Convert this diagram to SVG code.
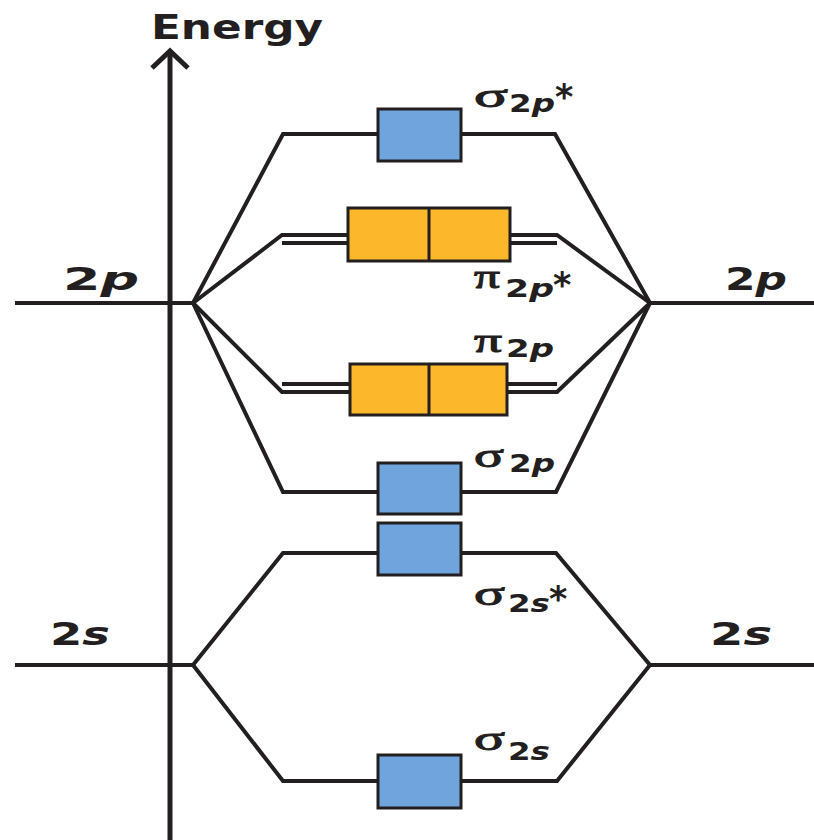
<svg xmlns="http://www.w3.org/2000/svg" width="814" height="840" viewBox="0 0 814 840">
  <style>
    .ln { fill: none; stroke: #231f20; stroke-width: 4; stroke-linejoin: miter; }
    .ax { fill: none; stroke: #231f20; stroke-width: 5; }
    .sb { fill: #6fa4dd; stroke: #231f20; stroke-width: 3; }
    .pb { fill: #fcb82a; stroke: #231f20; stroke-width: 3; }
    .lab { font-family: "DejaVu Sans", "Liberation Sans", sans-serif; font-weight: bold; fill: #231f20; }
    .gk { font-family: "Liberation Serif", "DejaVu Serif", serif; fill: #231f20; stroke: #231f20; stroke-width: 1; }
    .st { font-family: "DejaVu Sans", "Liberation Sans", sans-serif; font-weight: bold; font-size: 35px; fill: #231f20; }
    .it { font-style: italic; }
  </style>
  <rect width="814" height="840" fill="#ffffff"/>

  <!-- energy axis -->
  <g id="axis">
    <line class="ax" x1="170" y1="52" x2="170" y2="840"/>
    <polyline class="ax" points="152,68 170,51 188,68"/>
    <text class="lab" x="151" y="39" font-size="34" textLength="172" lengthAdjust="spacingAndGlyphs">Energy</text>
  </g>

  <!-- connectors: atomic levels and correlation lines -->
  <g id="connectors">
    <!-- atomic 2p / 2s levels -->
    <line class="ln" x1="15" y1="303" x2="193" y2="303"/>
    <line class="ln" x1="650" y1="303" x2="814" y2="303"/>
    <line class="ln" x1="15" y1="665" x2="193" y2="665"/>
    <line class="ln" x1="650" y1="665" x2="814" y2="665"/>

    <!-- sigma 2p* -->
    <polyline class="ln" points="193,303 283,134 378,134"/>
    <polyline class="ln" points="461,134 555,134 650,303"/>
    <!-- pi 2p* -->
    <polyline class="ln" points="193,303 282,235 348,235"/>
    <line class="ln" x1="282" y1="243" x2="348" y2="243"/>
    <polyline class="ln" points="510,235 557,235 650,303"/>
    <line class="ln" x1="510" y1="243" x2="557" y2="243"/>
    <!-- pi 2p -->
    <line class="ln" x1="282" y1="384" x2="350" y2="384"/>
    <polyline class="ln" points="193,303 282,392 350,392"/>
    <line class="ln" x1="507" y1="384" x2="557" y2="384"/>
    <polyline class="ln" points="507,392 557,392 650,303"/>
    <!-- sigma 2p -->
    <polyline class="ln" points="193,303 283,492 378,492"/>
    <polyline class="ln" points="461,492 556,492 650,303"/>
    <!-- sigma 2s* -->
    <polyline class="ln" points="193,665 283,553 378,553"/>
    <polyline class="ln" points="461,553 556,553 650,665"/>
    <!-- sigma 2s -->
    <polyline class="ln" points="193,665 283,781 378,781"/>
    <polyline class="ln" points="461,781 557,781 650,665"/>
  </g>

  <!-- atomic labels -->
  <g id="atom-left">
    <text class="lab" x="63" y="290" font-size="32" textLength="76" lengthAdjust="spacingAndGlyphs">2<tspan class="it">p</tspan></text>
    <text class="lab" x="50" y="645" font-size="32" textLength="60" lengthAdjust="spacingAndGlyphs">2<tspan class="it">s</tspan></text>
  </g>
  <g id="atom-right">
    <text class="lab" x="725" y="290" font-size="32" textLength="62" lengthAdjust="spacingAndGlyphs">2<tspan class="it">p</tspan></text>
    <text class="lab" x="710" y="645" font-size="32" textLength="62" lengthAdjust="spacingAndGlyphs">2<tspan class="it">s</tspan></text>
  </g>

  <!-- molecular orbitals -->
  <g id="sigma2p-star">
    <rect class="sb" x="378" y="109" width="83" height="52"/>
    <text class="gk" x="474" y="107" font-size="34" textLength="34" lengthAdjust="spacingAndGlyphs">σ</text>
    <text class="lab" x="509" y="112" font-size="25" textLength="46" lengthAdjust="spacingAndGlyphs">2<tspan class="it">p</tspan></text>
    <text class="st" x="555" y="109">*</text>
  </g>

  <g id="pi2p-star">
    <rect class="pb" x="348" y="208" width="162" height="53"/>
    <line x1="429" y1="208" x2="429" y2="261" stroke="#231f20" stroke-width="3"/>
    <text class="gk" x="474" y="288" font-size="34" textLength="26" lengthAdjust="spacingAndGlyphs">π</text>
    <text class="lab" x="505" y="297" font-size="25" textLength="49" lengthAdjust="spacingAndGlyphs">2<tspan class="it">p</tspan></text>
    <text class="st" x="553" y="297">*</text>
  </g>

  <g id="pi2p">
    <rect class="pb" x="350" y="364" width="157" height="51"/>
    <line x1="429" y1="364" x2="429" y2="415" stroke="#231f20" stroke-width="3"/>
    <text class="gk" x="474" y="352" font-size="34" textLength="28" lengthAdjust="spacingAndGlyphs">π</text>
    <text class="lab" x="506" y="357" font-size="25" textLength="48" lengthAdjust="spacingAndGlyphs">2<tspan class="it">p</tspan></text>
  </g>

  <g id="sigma2p">
    <rect class="sb" x="378" y="463" width="83" height="51"/>
    <text class="gk" x="474" y="467" font-size="34" textLength="30" lengthAdjust="spacingAndGlyphs">σ</text>
    <text class="lab" x="509" y="472" font-size="25" textLength="46" lengthAdjust="spacingAndGlyphs">2<tspan class="it">p</tspan></text>
  </g>

  <g id="sigma2s-star">
    <rect class="sb" x="378" y="523" width="83" height="52"/>
    <text class="gk" x="474" y="605" font-size="34" textLength="31" lengthAdjust="spacingAndGlyphs">σ</text>
    <text class="lab" x="508" y="612" font-size="25" textLength="42" lengthAdjust="spacingAndGlyphs">2<tspan class="it">s</tspan></text>
    <text class="st" x="549" y="611">*</text>
  </g>

  <g id="sigma2s">
    <rect class="sb" x="378" y="755" width="83" height="53"/>
    <text class="gk" x="474" y="750" font-size="34" textLength="31" lengthAdjust="spacingAndGlyphs">σ</text>
    <text class="lab" x="508" y="760" font-size="25" textLength="42" lengthAdjust="spacingAndGlyphs">2<tspan class="it">s</tspan></text>
  </g>
</svg>
